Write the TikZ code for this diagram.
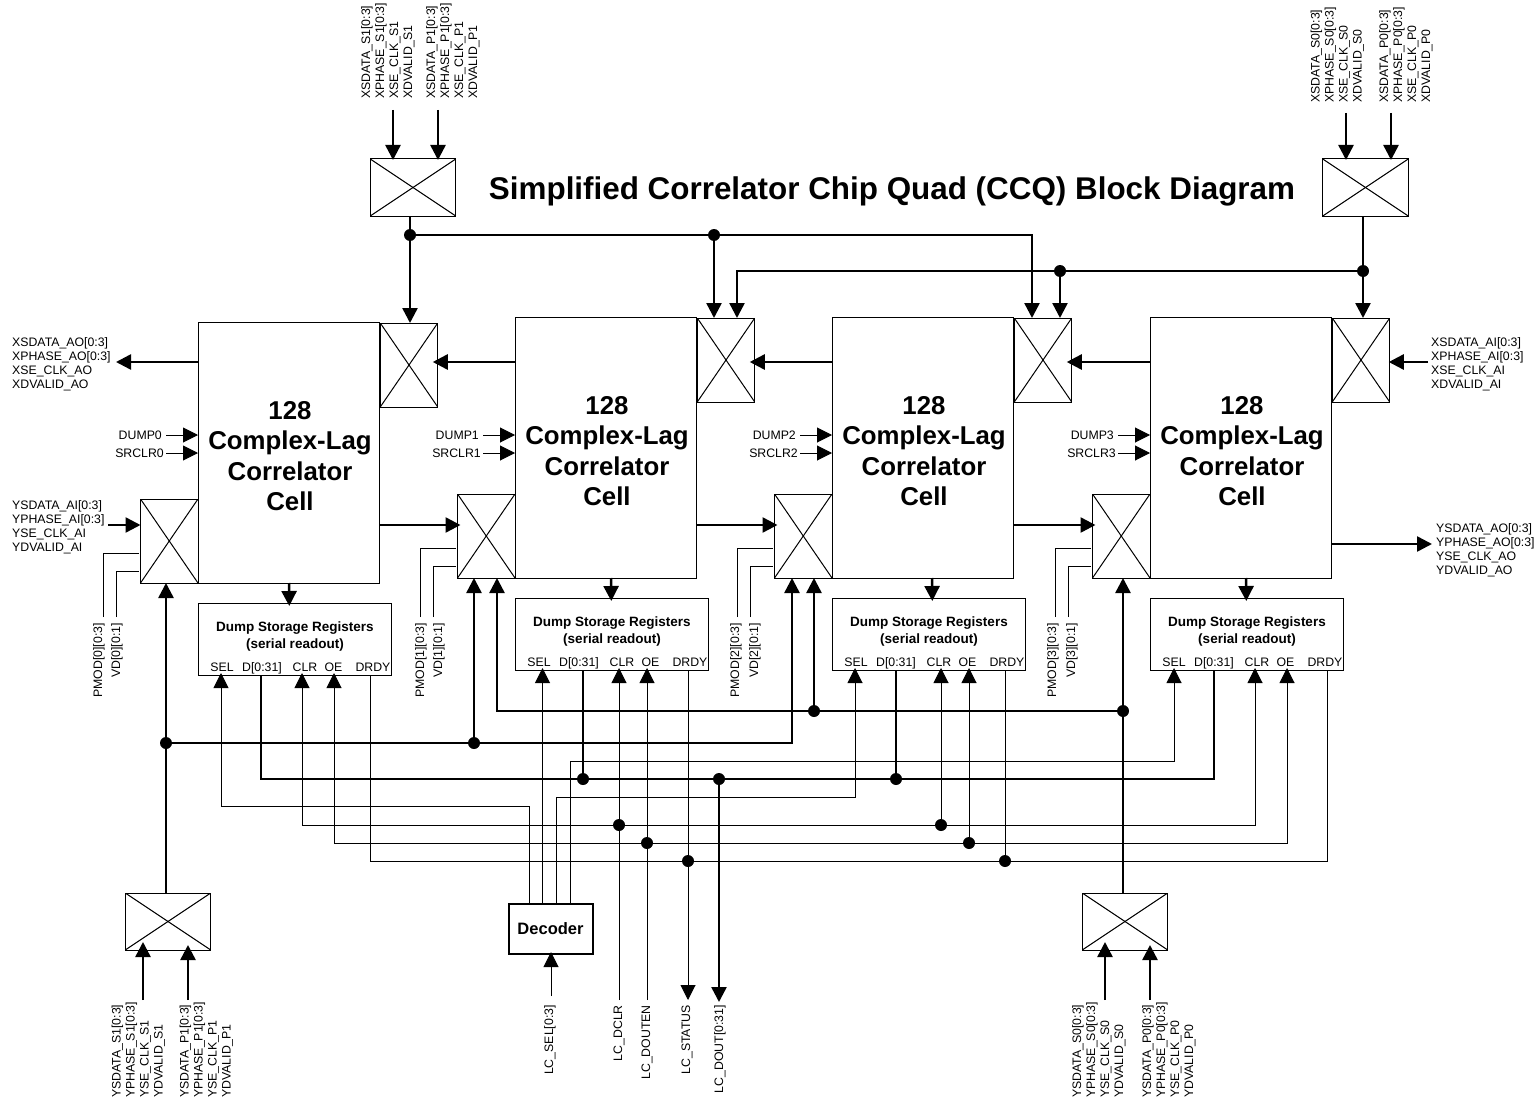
\documentclass[tikz,border=0pt]{standalone}
\usepackage{fontspec}
\setmainfont{Liberation Sans}
\usetikzlibrary{arrows.meta}
\tikzset{
  wire/.style={line width=1pt},
  bus/.style={line width=2.5pt},
  >={Triangle[length=15pt,width=15pt]},
  box/.style={draw,line width=1pt,inner sep=0pt,outer sep=0pt},
  cellbox/.style={box,minimum width=181pt,minimum height=261pt},
  celltext/.style={inner sep=0pt,align=center,font=\fontsize{25.8}{30.3}\selectfont\bfseries},
  storebox/.style={box,minimum width=193.5pt,minimum height=72pt},
  muxbox/.style={box,path picture={
    \draw[wire] (path picture bounding box.north west) -- (path picture bounding box.south east);
    \draw[wire] (path picture bounding box.south west) -- (path picture bounding box.north east);}},
  tallmux/.style={muxbox,minimum width=57.5pt,minimum height=84pt},
  widemux/.style={muxbox,minimum width=85.5pt,minimum height=57pt},
  dot/.style={circle,fill=black,inner sep=0pt,minimum size=12pt},
  siglabel/.style={inner sep=0pt,align=left,font=\fontsize{12.3}{14}\selectfont},
  pinlabel/.style={siglabel,anchor=base},
  upright/.style={siglabel,rotate=90},
  boldtext/.style={inner sep=0pt,align=center,font=\fontsize{13.5}{17}\selectfont\bfseries},
}
\begin{document}
\begin{tikzpicture}[x=1pt,y=-1pt]
\useasboundingbox (0,0) rectangle (1540,1105);
\node[inner sep=0pt,font=\fontsize{31.4}{36}\selectfont\bfseries] (title) at (892,191)
  {Simplified Correlator Chip Quad (CCQ) Block Diagram};
% cells, muxes, registers
\foreach \i/\x/\y/\a/\pd/\vd in {0/198/322/91/99/117,1/515/317/96/421/439,2/832/317/100/736/755,3/1150/317/96/1053/1072}{
  \node[cellbox] (cell\i) at (\x+90.5,\y+130.5) {};
  \node[celltext] (ctext\i) at (\x+92,\y+134) {128\\Complex-Lag\\Correlator\\Cell};
  \node[tallmux] (xmux\i) at (\x+211,\y+43) {};
  \node[tallmux] (ymux\i) at (\x-28.75,\y+219) {};
  \node[storebox] (store\i) at (\x+97,\y+317) {};
  \node[boldtext] (stname\i) at (\x+97,\y+315) {Dump Storage Registers\\(serial readout)};
  \node[pinlabel] (sel\i) at (\x+24,\y+349) {SEL};
  \node[pinlabel] (dat\i) at (\x+64,\y+349) {D[0:31]};
  \node[pinlabel] (clr\i) at (\x+107,\y+349) {CLR};
  \node[pinlabel] (oe\i) at (\x+135.5,\y+349) {OE};
  \node[pinlabel] (rdy\i) at (\x+175,\y+349) {DRDY};
  \draw[bus,->,shorten >=-3pt] ([xshift=\a pt]cell\i.south west) -- ([xshift=\a pt]store\i.north west);
  % dump and clear
  \coordinate (dmp\i) at (\x-32,435);
  \coordinate (src\i) at (\x-32,453);
  \node[siglabel,anchor=east] (dname\i) at (\x-36,435) {DUMP\i};
  \node[siglabel,anchor=east] (sname\i) at (\x-34,453) {SRCLR\i};
  \draw[wire,->] (dmp\i) -- (dmp\i -| cell\i.west);
  \draw[wire,->] (src\i) -- (src\i -| cell\i.west);
  % mode lines
  \node[upright,anchor=east] (pname\i) at (\pd,623) {PMOD[\i][0:3]};
  \node[upright,anchor=east] (vname\i) at (\vd,623) {VD[\i][0:1]};
  \coordinate (pm\i) at (\x-95,617);
  \coordinate (vd\i) at (\x-82,617);
  \draw[wire] (pm\i) |- ([shift={(-2pt,-12pt)}]ymux\i.west);
  \draw[wire] (vd\i) |- ([shift={(-2pt,-30pt)}]ymux\i.west);
}
% input muxes
\node[widemux] (xins1) at (413,187.5) {};
\node[widemux] (xins0) at (1365.5,187.5) {};
\node[widemux] (yins1) at (168,921.5) {};
\node[widemux] (yins0) at (1125,921.5) {};
\node[box,line width=2pt,minimum width=84pt,minimum height=50pt,font=\fontsize{16.5}{20}\selectfont\bfseries] (dec) at (550.5,929) {Decoder};
% top labels
\node[upright,anchor=west] (lbxs1) at (388,99) {XSDATA\_S1[0:3]\\XPHASE\_S1[0:3]\\XSE\_CLK\_S1\\XDVALID\_S1};
\node[upright,anchor=west] (lbxp1) at (453,99) {XSDATA\_P1[0:3]\\XPHASE\_P1[0:3]\\XSE\_CLK\_P1\\XDVALID\_P1};
\node[upright,anchor=west] (lbxs0) at (1337.5,103) {XSDATA\_S0[0:3]\\XPHASE\_S0[0:3]\\XSE\_CLK\_S0\\XDVALID\_S0};
\node[upright,anchor=west] (lbxp0) at (1406,103) {XSDATA\_P0[0:3]\\XPHASE\_P0[0:3]\\XSE\_CLK\_P0\\XDVALID\_P0};
% side labels
\node[siglabel,anchor=west] (lbxao) at (12,364) {XSDATA\_AO[0:3]\\XPHASE\_AO[0:3]\\XSE\_CLK\_AO\\XDVALID\_AO};
\node[siglabel,anchor=west] (lbyai) at (12,527) {YSDATA\_AI[0:3]\\YPHASE\_AI[0:3]\\YSE\_CLK\_AI\\YDVALID\_AI};
\node[siglabel,anchor=west] (lbxai) at (1431,364) {XSDATA\_AI[0:3]\\XPHASE\_AI[0:3]\\XSE\_CLK\_AI\\XDVALID\_AI};
\node[siglabel,anchor=west] (lbyao) at (1436,550) {YSDATA\_AO[0:3]\\YPHASE\_AO[0:3]\\YSE\_CLK\_AO\\YDVALID\_AO};
% bottom labels
\node[upright,anchor=west] (lbys1) at (138.5,1098) {YSDATA\_S1[0:3]\\YPHASE\_S1[0:3]\\YSE\_CLK\_S1\\YDVALID\_S1};
\node[upright,anchor=west] (lbyp1) at (206.5,1098) {YSDATA\_P1[0:3]\\YPHASE\_P1[0:3]\\YSE\_CLK\_P1\\YDVALID\_P1};
\node[upright,anchor=west] (lbys0) at (1099,1098) {YSDATA\_S0[0:3]\\YPHASE\_S0[0:3]\\YSE\_CLK\_S0\\YDVALID\_S0};
\node[upright,anchor=west] (lbyp0) at (1169,1098) {YSDATA\_P0[0:3]\\YPHASE\_P0[0:3]\\YSE\_CLK\_P0\\YDVALID\_P0};
\node[upright,anchor=east] (lbsel) at (550,1005) {LC\_SEL[0:3]};
\node[upright,anchor=east] (lbclr) at (619,1005) {LC\_DCLR};
\node[upright,anchor=east] (lboen) at (647,1005) {LC\_DOUTEN};
\node[upright,anchor=east] (lbsta) at (687,1005) {LC\_STATUS};
\node[upright,anchor=east] (lbdou) at (720,1005) {LC\_DOUT[0:31]};
% junctions
\node[dot] (jxa) at (410,235) {};
\node[dot] (jxb) at (714,235) {};
\coordinate (jxc) at (1032,235);
\node[dot] (jxd) at (1363,271) {};
\node[dot] (jxe) at (1060,271) {};
\coordinate (jxf) at (737,271);
\node[dot] (jya) at (166,743) {};
\node[dot] (jyb) at (474,743) {};
\coordinate (jyc) at (792,743);
\node[dot] (jyd) at (1123,711) {};
\node[dot] (jye) at (814,711) {};
\coordinate (jyf) at (497,711);
% top and bottom feeds
\foreach \a/\m/\xx/\yy in {ixs1/xins1/393/110,ixp1/xins1/438/110,ixs0/xins0/1346/113,ixp0/xins0/1391/113}{
  \coordinate (\a) at (\xx,\yy);
  \draw[bus,->,shorten >=-1pt] (\a) -- (\a |- \m.north);
}
\foreach \a/\m/\xx/\s in {iys1/yins1/143/-8pt,iyp1/yins1/188/-5pt,iys0/yins0/1105/-8pt,iyp0/yins0/1150/-5pt}{
  \coordinate (\a) at (\xx,1000);
  \draw[bus,->,shorten >=\s] (\a) -- (\a |- \m.south);
}
% X bus
\draw[bus] (jxa |- xins1.south) -- (jxa);
\draw[bus,->] (jxa) -- (jxa |- xmux0.north);
\draw[bus,->] (jxa) -- (jxc) -- (jxc |- xmux2.north);
\draw[bus,->] (jxb) -- (jxb |- xmux1.north);
\draw[bus] (jxd |- xins0.south) -- (jxd);
\draw[bus,->] (jxd) -- (jxd |- xmux3.north);
\draw[bus,->] (jxd) -- (jxf) -- (jxf |- xmux1.north);
\draw[bus,->] (jxe) -- (jxe |- xmux2.north);
% Y bus
\draw[bus,->] (jya |- yins1.north) -- (jya |- ymux0.south);
\draw[bus,->] (jya) -- (jyc) -- (jyc |- ymux2.south);
\draw[bus,->] (jyb) -- (jyb |- ymux1.south);
\draw[bus,->] (jyd |- yins0.north) -- (jyd |- ymux3.south);
\draw[bus,->] (jyd) -- (jyf) -- (jyf |- ymux1.south);
\draw[bus,->] (jye) -- (jye |- ymux2.south);
% row of X and Y links
\coordinate (xout) at (116,362);
\coordinate (xin) at (1428,362);
\coordinate (yin) at (108,525);
\coordinate (yout) at (1432,544);
\draw[bus,->] (xout -| cell0.west) -- (xout);
\foreach \i/\j in {0/1,1/2,2/3}{
  \draw[bus,->,shorten >=-5pt] (xout -| cell\j.west) -- (xout -| xmux\i.east);
  \draw[bus,->,shorten >=-3pt] (yin -| cell\i.east) -- (yin -| ymux\j.west);
}
\draw[bus,->,shorten >=-1pt] (xin) -- (xin -| xmux3.east);
\draw[bus,->] (yin) -- (yin -| ymux0.west);
\draw[bus,->] (yout -| cell3.east) -- (yout);
% data readout
\node[dot] (jda) at (583,779) {};
\node[dot] (jdb) at (896,779) {};
\node[dot] (jdc) at (719,779) {};
\coordinate (jd0) at (261,779);
\coordinate (jd3) at (1214,779);
\draw[bus] (jd0 |- store0.south) -- (jd0) -- (jd3) -- (jd3 |- store3.south);
\draw[bus] (jda) -- (jda |- store1.south);
\draw[bus] (jdb) -- (jdb |- store2.south);
\coordinate (lcdout) at (719,1002);
\draw[bus,->] (jdc) -- (lcdout);
% clear
\node[dot] (jca) at (619,825) {};
\node[dot] (jcb) at (941,825) {};
\coordinate (jc0) at (302,825);
\coordinate (jc3) at (1255,825);
\coordinate (lcclr) at (619,1000);
\draw[wire,<->,shorten <=-2pt,shorten >=-2pt] (jc0 |- store0.south) -- (jc0) -- (jc3) -- (jc3 |- store3.south);
\draw[wire,->,shorten >=-2pt] (lcclr) -- (lcclr |- store1.south);
\draw[wire,->,shorten >=-2pt] (jcb) -- (jcb |- store2.south);
% output enable
\node[dot] (joa) at (647,843) {};
\node[dot] (job) at (969,843) {};
\coordinate (jo0) at (334,843);
\coordinate (jo3) at (1287,843);
\coordinate (lcoen) at (647,1000);
\draw[wire,<->,shorten <=-2pt,shorten >=-2pt] (jo0 |- store0.south) -- (jo0) -- (jo3) -- (jo3 |- store3.south);
\draw[wire,->,shorten >=-2pt] (lcoen) -- (lcoen |- store1.south);
\draw[wire,->,shorten >=-2pt] (job) -- (job |- store2.south);
% ready
\node[dot] (jra) at (688,861) {};
\node[dot] (jrb) at (1005,861) {};
\coordinate (jr0) at (370,861);
\coordinate (jr3) at (1327,861);
\coordinate (lcsta) at (688,1000);
\draw[wire] (jr0 |- store0.south) -- (jr0) -- (jr3) -- (jr3 |- store3.south);
\draw[wire,->] (jra |- store1.south) -- (lcsta);
\draw[wire] (jrb) -- (jrb |- store2.south);
% decoder selects
\coordinate (js0) at (529,806);
\coordinate (js00) at (221,806);
\coordinate (js1) at (542.5,806);
\coordinate (js2) at (556,797);
\coordinate (js22) at (855,797);
\coordinate (js3) at (570,761);
\coordinate (js33) at (1174,761);
\coordinate (lcsel) at (551,996);
\draw[wire,->,shorten >=-2pt] (js0 |- dec.north) -- (js0) -- (js00) -- (js00 |- store0.south);
\draw[wire,->,shorten >=-2pt] (js1 |- dec.north) -- (js1 |- store1.south);
\draw[wire,->,shorten >=-2pt] (js2 |- dec.north) -- (js2) -- (js22) -- (js22 |- store2.south);
\draw[wire,->,shorten >=-2pt] (js3 |- dec.north) -- (js3) -- (js33) -- (js33 |- store3.south);
\draw[wire,->,shorten >=-2pt] (lcsel) -- (lcsel |- dec.south);
\end{tikzpicture}
\end{document}
